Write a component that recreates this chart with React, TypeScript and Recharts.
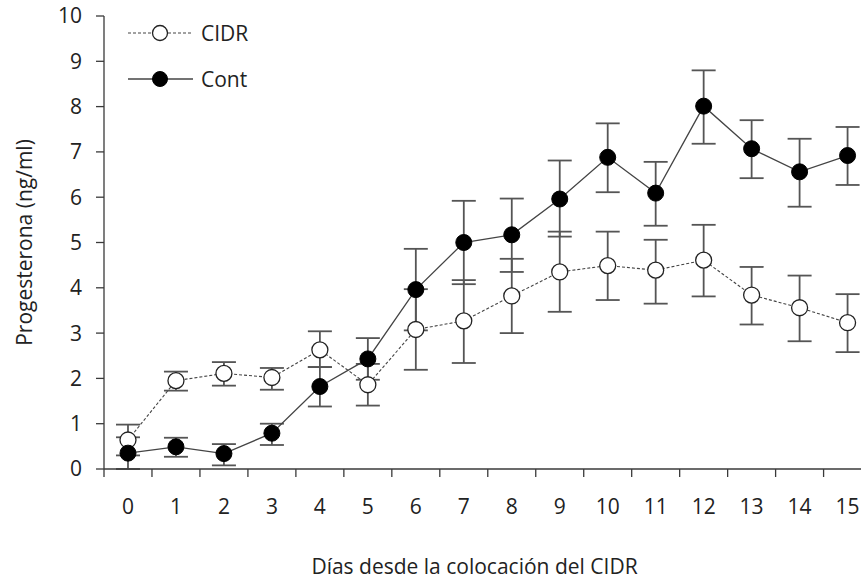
import React from "react";
import { LineChart, Line, XAxis, YAxis, ErrorBar, Legend } from "recharts";

// days since CIDR insertion
const days = [0, 1, 2, 3, 4, 5, 6, 7, 8, 9, 10, 11, 12, 13, 14, 15];

// CIDR group (open circles)
const cidrMean = [0.64, 1.95, 2.11, 2.02, 2.63, 1.86, 3.08, 3.27, 3.82, 4.35, 4.49, 4.39, 4.61, 3.84, 3.56, 3.23];
const cidrUpper = [0.98, 2.15, 2.36, 2.23, 3.04, 2.32, 3.97, 4.17, 4.64, 5.24, 5.24, 5.06, 5.39, 4.46, 4.27, 3.86];
const cidrLower = [0.3, 1.73, 1.84, 1.75, 2.25, 1.4, 2.19, 2.34, 3.0, 3.47, 3.73, 3.65, 3.81, 3.19, 2.82, 2.58];

// control group (filled circles)
const contMean = [0.35, 0.49, 0.34, 0.79, 1.82, 2.43, 3.96, 5.0, 5.17, 5.96, 6.88, 6.09, 8.01, 7.07, 6.56, 6.92];
const contUpper = [0.7, 0.69, 0.55, 1.0, 2.25, 2.89, 4.86, 5.92, 5.97, 6.81, 7.63, 6.78, 8.8, 7.7, 7.29, 7.55];
const contLower = [0.0, 0.27, 0.08, 0.53, 1.38, 1.97, 3.06, 4.08, 4.35, 5.13, 6.11, 5.37, 7.18, 6.42, 5.79, 6.27];

const yTicks = [0, 1, 2, 3, 4, 5, 6, 7, 8, 9, 10];

const W = 861;
const H = 580;
const AXIS_W = 104;
const X_DOMAIN: [number, number] = [-0.5, 15.28];
const PX_PER_DAY = (W - AXIS_W) / (X_DOMAIN[1] - X_DOMAIN[0]);
const TICK = 8;
const TICK_MARGIN = 22;
const AXIS_COLOR = "#3a3a3a";
const FONT = "'Open Sans', sans-serif";
const FS = 21;

const data = days.map((d, i) => ({
  day: d,
  cidr: cidrMean[i],
  cidrErr: [cidrMean[i] - cidrLower[i], cidrUpper[i] - cidrMean[i]],
  cont: contMean[i],
  contErr: [contMean[i] - contLower[i], contUpper[i] - contMean[i]],
}));

// label at the day, tick mark at the left edge of its slot
const DayTick = (props: any) => {
  const { x, y, payload } = props;
  const axisY = y - TICK - TICK_MARGIN;
  const tx = x - PX_PER_DAY / 2;
  return (
    <g>
      <line x1={tx} y1={axisY} x2={tx} y2={axisY + TICK} stroke={AXIS_COLOR} strokeWidth={1.3} />
      <text x={x} y={y} dy="0.71em" textAnchor="middle" fill="#222" fontSize={FS}>
        {payload.value}
      </text>
    </g>
  );
};

const LegendBox = () => (
  <svg width={170} height={80}>
    <line x1={8} y1={14} x2={73} y2={14} stroke="#444" strokeWidth={1.1} strokeDasharray="3 2" />
    <circle cx={40} cy={14} r={7.5} fill="#fff" stroke="#222" strokeWidth={1.3} />
    <text x={81} y={14} dy="0.36em" fontSize={FS} fill="#222">CIDR</text>
    <line x1={8} y1={60} x2={73} y2={60} stroke="#444" strokeWidth={1.3} />
    <circle cx={40} cy={60} r={7.5} fill="#000" stroke="#000" />
    <text x={81} y={60} dy="0.36em" fontSize={FS} fill="#222">Cont</text>
  </svg>
);

const YTitle = (props: any) => {
  const { viewBox } = props;
  const cy = viewBox.y + viewBox.height / 2;
  return (
    <text
      x={24}
      y={cy}
      transform={`rotate(-90, 24, ${cy})`}
      textAnchor="middle"
      dominantBaseline="central"
      fontSize={FS}
      fill="#222"
    >
      Progesterona (ng/ml)
    </text>
  );
};

export default function App() {
  return (
    <div style={{ width: W, height: H, fontFamily: FONT, background: "#fff" }}>
      <style>{"body{margin:0}"}</style>
      <LineChart width={W} height={H} data={data} margin={{ top: 16, right: 0, bottom: 0, left: 0 }}>
        <XAxis
          dataKey="day"
          type="number"
          domain={X_DOMAIN}
          ticks={days}
          allowDataOverflow
          height={H - 469}
          stroke={AXIS_COLOR}
          strokeWidth={1.3}
          tickLine={false}
          tickSize={TICK}
          tickMargin={TICK_MARGIN}
          tick={<DayTick />}
          label={{
            value: "Días desde la colocación del CIDR",
            position: "insideBottom",
            offset: 6,
            dx: -8,
            fontSize: FS,
            fill: "#222",
          }}
        />
        <YAxis
          domain={[0, 10]}
          ticks={yTicks}
          width={AXIS_W}
          stroke={AXIS_COLOR}
          strokeWidth={1.3}
          tickSize={TICK}
          tickMargin={14}
          tick={{ fontSize: FS, fill: "#222" }}
          label={<YTitle />}
        />
        <Legend
          layout="vertical"
          align="center"
          verticalAlign="middle"
          wrapperStyle={{ left: 120, top: 19, width: 170 }}
          content={<LegendBox />}
        />
        {/* lines and error bars first */}
        <Line
          dataKey="cidr"
          stroke="#444"
          strokeWidth={1.1}
          strokeDasharray="3 2"
          dot={false}
          activeDot={false}
          isAnimationActive={false}
        >
          <ErrorBar dataKey="cidrErr" width={12} stroke="#555" strokeWidth={1.8} direction="y" />
        </Line>
        <Line
          dataKey="cont"
          stroke="#444"
          strokeWidth={1.3}
          dot={false}
          activeDot={false}
          isAnimationActive={false}
        >
          <ErrorBar dataKey="contErr" width={12} stroke="#555" strokeWidth={1.8} direction="y" />
        </Line>
        {/* markers on top */}
        <Line
          dataKey="cidr"
          stroke="none"
          zIndex={1500}
          dot={{ r: 8, fill: "#fff", stroke: "#222", strokeWidth: 1.3 }}
          activeDot={false}
          legendType="none"
          isAnimationActive={false}
        />
        <Line
          dataKey="cont"
          stroke="none"
          zIndex={1501}
          dot={{ r: 8, fill: "#000", stroke: "#000", strokeWidth: 1 }}
          activeDot={false}
          legendType="none"
          isAnimationActive={false}
        />
      </LineChart>
    </div>
  );
}
